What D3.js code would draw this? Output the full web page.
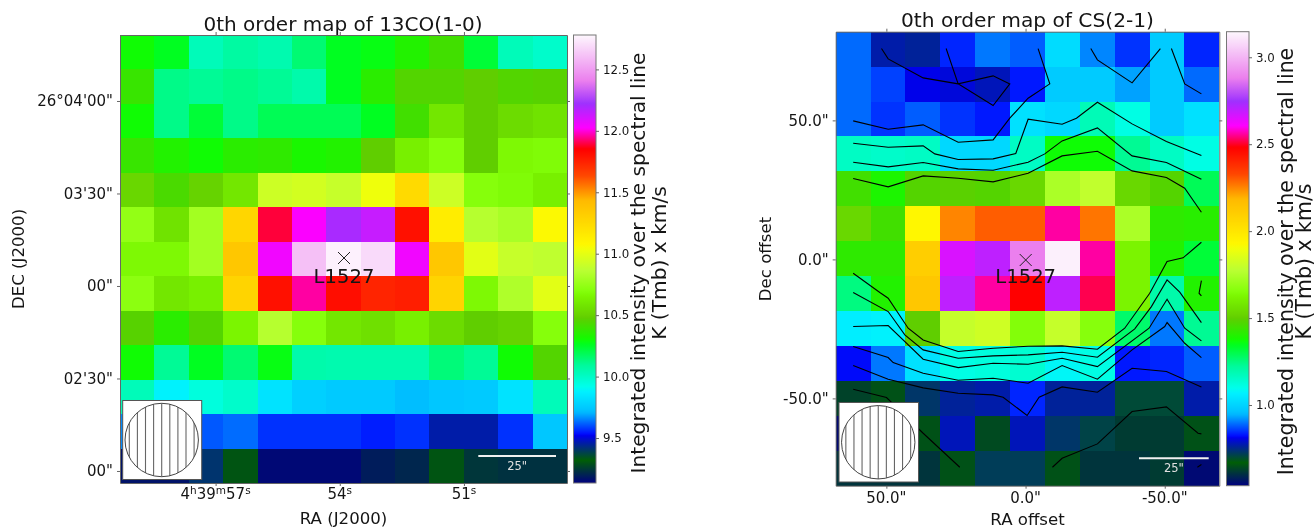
<!DOCTYPE html>
<html><head><meta charset="utf-8">
<script src="https://cdn.jsdelivr.net/npm/d3@7"></script>
<style>
html,body{margin:0;padding:0;background:#fff;}
svg{display:block;filter:blur(0.6px);}
text{font-family:"DejaVu Sans",sans-serif;fill:#151515;}
.tick text{fill:#151515;}
</style></head><body>
<svg id="c" width="1316" height="529"></svg>
<script>
// gist_ncar colormap stops
const cmapR=[[0,0],[.3098,0],[.3725,.3993],[.4235,.5003],[.5333,1],[.7922,1],[.8471,.6218],[.898,.9235],[1,.9961]];
const cmapG=[[0,0],[.051,.3722],[.1059,0],[.1569,.7202],[.1647,.7752],[.2157,1],[.2588,.9804],[.2706,.9804],[.3176,1],[.3686,.8081],[.4275,1],[.5216,1],[.6314,.7292],[.6863,.2796],[.7451,0],[.7922,0],[.8431,.1753],[.898,.5],[1,.9725]];
const cmapB=[[0,.502],[.051,.0222],[.1098,1],[.2039,1],[.2627,.6145],[.3216,0],[.4157,0],[.4745,.2],[.5333,0],[.7451,0],[.7922,1],[.8431,1],[.898,.9341],[1,.9961]];

// Left map: integrated intensity of 13CO(1-0), K km/s, top row first
const co13 = [
[10.30,10.26,10.03,10.08,10.05,10.15,10.26,10.28,10.34,10.41,10.23,10.03,9.99],
[10.39,10.12,10.10,10.12,10.10,10.06,10.26,10.36,10.45,10.45,10.48,10.45,10.46],
[10.30,10.12,10.23,10.12,10.19,10.19,10.19,10.26,10.41,10.59,10.48,10.54,10.57],
[10.39,10.34,10.30,10.36,10.37,10.32,10.34,10.48,10.63,10.70,10.48,10.67,10.68],
[10.52,10.43,10.50,10.59,10.92,10.94,10.90,11.03,11.25,10.92,10.70,10.68,10.63],
[10.74,10.57,10.79,11.27,11.89,12.03,12.20,12.14,11.80,11.14,10.85,10.81,11.07],
[10.67,10.67,10.79,11.36,12.05,12.61,12.76,12.69,12.05,11.36,10.99,10.90,10.88],
[10.72,10.59,10.63,11.28,11.80,11.96,11.81,11.74,11.76,11.28,10.67,10.83,10.99],
[10.46,10.36,10.45,10.65,10.85,10.70,10.59,10.56,10.63,10.54,10.48,10.50,10.70],
[10.30,10.10,10.26,10.15,10.28,10.06,10.05,10.05,10.05,10.14,10.10,10.30,10.45],
[10.03,9.88,9.95,9.99,9.83,9.77,9.75,9.75,9.72,9.74,9.75,9.83,10.03],
[9.66,9.63,9.61,9.63,9.57,9.57,9.57,9.55,9.57,9.46,9.46,9.57,9.74],
[9.17,9.17,9.41,9.30,9.15,9.15,9.15,9.19,9.21,9.30,9.24,9.23,9.23]];

// Right map: integrated intensity of CS(2-1), K km/s, top row first
const cs21 = [
[.89,.77,.76,.84,.90,.88,1.02,.91,.85,.98,.84],
[.89,.86,.81,.80,.78,.83,.98,.98,.93,.98,.89],
[.89,.85,.88,.85,.83,1.03,1.01,1.18,1.11,.98,1.03],
[1.16,1.15,1.16,1.01,1.01,1.16,1.37,1.37,1.23,1.16,1.11],
[1.45,1.39,1.48,1.49,1.48,1.53,1.74,1.79,1.53,1.48,1.29],
[1.53,1.45,1.93,2.25,2.30,2.30,2.56,2.27,1.74,1.42,1.41],
[1.42,1.42,2.10,2.66,2.70,2.88,3.13,2.56,1.62,1.40,1.32],
[1.25,1.40,2.13,2.70,2.56,2.48,2.70,2.52,1.62,1.20,1.40],
[1.06,1.07,1.50,1.80,1.82,1.65,1.80,1.66,1.27,.90,1.23],
[.82,.90,1.03,1.11,1.12,1.14,1.08,1.11,.83,.84,.88],
[.63,.65,.73,.76,.77,.84,.76,.76,.70,.70,.77],
[.55,.59,.65,.78,.64,.78,.73,.71,.62,.62,.65],
[.61,.61,.61,.65,.72,.72,.65,.61,.61,.62,.55]];

// Contours on the right map: [RA offset, Dec offset] in arcsec
const contourA=[[51.75,75.84],[49.35,72.12],[36.78,65.29],[24.21,63.13],[11.65,55.34],[5.66,63.13],[11.65,66.01],[24.21,63.13],[28.53,75.84]];
const contourB=[[-4.51,75.84],[-8.7,63.13],[-.92,57.98],[5.66,50.78],[11.65,42.99],[24.21,42.15],[36.78,48.39],[49.35,46.83],[61.92,49.82]];
const contourC=[[-23.43,75.84],[-25.82,71.77],[-38.27,63.49],[-48.44,75.84]];
const contourD=[[-52.39,75.84],[-57.18,63.13],[-63.17,59.54]];
const contourE=[[61.92,41.79],[49.35,40.35],[36.78,40.83],[32.59,37.95],[24.21,35.92],[11.65,36.16],[3.51,38.07],[-.92,50.42],[-13.13,48.62],[-18.28,50.78],[-25.82,56.54],[-38.27,48.74],[-50.6,42.39],[-63.17,37.35]];
const contourF=[[61.92,34.96],[49.35,33.28],[36.78,34.84],[24.21,32.56],[11.65,32.08],[-.92,34.96],[-6.91,37.95],[-13.13,42.63],[-25.82,47.31],[-38.27,37.23],[-50.6,34.84],[-63.17,28.84]];
const contourG=[[61.92,29.08],[49.35,26.08],[36.78,30.04],[24.21,29.2],[11.65,27.88],[-.92,31.0],[-13.13,37.23],[-25.82,38.91],[-38.27,31.84],[-50.6,29.44],[-57.18,25.6],[-63.17,16.97]];
const contourI=[[61.92,-4.98],[52.34,-11.93],[49.35,-13.97],[42.17,-24.76],[36.78,-28.96],[24.21,-33.15],[11.65,-31.95],[-.92,-31.23],[-13.13,-31.11],[-25.82,-32.31],[-35.63,-24.76],[-44.61,-12.17],[-50.84,-.78],[-56.58,.55],[-63.17,6.18]];
const contourJ=[[61.92,-11.93],[49.35,-18.76],[43.37,-27.16],[36.78,-32.55],[24.21,-35.55],[11.65,-34.71],[-.92,-34.35],[-13.13,-33.39],[-25.82,-35.19],[-39.23,-24.98],[-45.21,-16.97],[-50.84,-7.37],[-55.39,-11.81],[-63.17,-22.72]];
const contourK=[[61.92,-24.16],[49.35,-23.8],[36.78,-35.91],[24.21,-38.91],[11.65,-37.35],[-.92,-37.71],[-13.13,-35.55],[-25.82,-38.55],[-44.37,-24.76],[-50.84,-14.33],[-57.18,-24.76],[-63.17,-29.32]];
const contourL=[[61.92,-31.35],[49.35,-35.31],[47.56,-37.11],[36.78,-40.95],[24.21,-43.46],[11.65,-42.74],[-.92,-44.54],[-13.13,-38.19],[-25.82,-43.1],[-38.27,-32.55],[-50,-24.16],[-50.84,-22.72],[-57.18,-30.16],[-63.17,-35.31]];
const contourM=[[61.92,-38.19],[49.35,-43.1],[36.78,-46.22],[24.21,-48.14],[11.65,-48.74],[8.06,-49.58],[-.56,-56.17],[-4.87,-49.58],[-13.13,-45.86],[-25.82,-47.78],[-38.27,-39.15],[-50.6,-40.35],[-63.17,-45.86]];
const contourN=[[61.92,-46.7],[49.95,-49.7],[36.78,-62.53],[23.62,-74.76]];
const contourO=[[-9.66,-74.76],[-13.13,-71.52],[-25.82,-66.36],[-38.27,-54.73],[-50.6,-53.06],[-61.97,-62.53],[-63.17,-62.77]];
const contourP=[[-63.17,-7.61],[-62.33,-12.17],[-63.17,-13.13]];
const contourQ=[[-61.73,-74.76],[-63.17,-73.8]];
const contours=[contourA,contourB,contourC,contourD,contourE,contourF,contourG,contourI,contourJ,contourK,contourL,contourM,contourN,contourO,contourP,contourQ];

// Ticks
const raTicksL=[57,54,51];
const raLabelsL=[[["4","n"],["h","s"],["39","n"],["m","s"],["57","n"],["s","s"]],[["54","n"],["s","s"]],[["51","n"],["s","s"]]];
const decTicksL=[60,30,0,-30,-60];
const decLabelsL=['26°04\'00"','03\'30"','00"','02\'30"','00"'];
const offTicks=[50,0,-50];
const offLabels=['50.0"','0.0"','-50.0"'];
const cbTicksL=[9.5,10,10.5,11,11.5,12,12.5];
const cbTicksR=[1,1.5,2,2.5,3];

const chan=s=>d3.scaleLinear(s.map(d=>d[0]),s.map(d=>d[1]*255)).clamp(true);
const cr=chan(cmapR),cg=chan(cmapG),cb=chan(cmapB);
const ncar=t=>`rgb(${cr(t)|0},${cg(t)|0},${cb(t)|0})`;

const svg=d3.select('#c');
const defs=svg.append('defs');
const frame='#666';

function panel(o){
  const g=svg.append('g');
  const col=d3.scaleBand(d3.range(o.data[0].length),[o.x0,o.x1]);
  const row=d3.scaleBand(d3.range(o.data.length),[o.y0,o.y1]);
  const norm=d3.scaleLinear(o.vdom,[0,1]);
  o.data.forEach((r,i)=>g.selectAll(null).data(r).join('rect')
    .attr('x',(d,j)=>col(j)).attr('y',row(i))
    .attr('width',col.bandwidth()).attr('height',row.bandwidth())
    .attr('shape-rendering','crispEdges')
    .attr('fill',d=>ncar(norm(d))));
  // contours
  if(o.contours){
    const line=d3.line().x(d=>o.xs(d[0])).y(d=>o.ys(d[1]));
    g.selectAll(null).data(o.contours).join('path').attr('d',line)
      .attr('fill','none').attr('stroke','#000').attr('stroke-width',1.1);
  }
  // source marker and label
  const mx=o.mark[0],my=o.mark[1];
  g.append('path').attr('d',`M${mx-6},${my-6}L${mx+6},${my+6}M${mx-6},${my+6}L${mx+6},${my-6}`)
    .attr('stroke','#222').attr('stroke-width',1);
  g.append('text').attr('x',o.mark[0]).attr('y',282.5).attr('text-anchor','middle')
    .attr('font-size',19.6).text('L1527');
  // beam box
  const b=o.beam;
  g.append('rect').attr('x',b.x).attr('y',b.y).attr('width',b.s).attr('height',b.s)
    .attr('fill','#fff').attr('stroke','#555').attr('stroke-width',1);
  const cx=b.x+b.s/2-.5,cy=b.y+b.s/2,rad=36.7;
  defs.append('clipPath').attr('id',o.id+'b').append('circle').attr('cx',cx).attr('cy',cy).attr('r',rad);
  g.append('g').attr('clip-path',`url(#${o.id}b)`).selectAll('line').data(d3.range(-4,5)).join('line')
    .attr('x1',d=>cx+d*8.1).attr('x2',d=>cx+d*8.1).attr('y1',cy-rad).attr('y2',cy+rad)
    .attr('stroke','#666').attr('stroke-width',1.1);
  g.append('circle').attr('cx',cx).attr('cy',cy).attr('r',rad).attr('fill','none').attr('stroke','#444').attr('stroke-width',1);
  // scale bar
  g.append('line').attr('x1',o.bar[0]).attr('x2',o.bar[1]).attr('y1',o.bar[2]).attr('y2',o.bar[2])
    .attr('stroke','#f0f0f0').attr('stroke-width',2);
  g.append('text').attr('x',(o.bar[0]+o.bar[1])/2).attr('y',o.bar[2]+14).attr('text-anchor','middle')
    .attr('font-size',11.5).style('fill','#e0e0e0').text('25"');
  // axes
  const bottom=d3.axisBottom(o.xs).tickValues(o.xt).tickSizeInner(3).tickSizeOuter(0).tickFormat('');
  const top=d3.axisTop(o.xs).tickValues(o.xt).tickSizeInner(3).tickSizeOuter(0).tickFormat('');
  const left=d3.axisLeft(o.ys).tickValues(o.yt).tickSizeInner(3).tickSizeOuter(0).tickPadding(4).tickFormat((d,i)=>o.yl[i]);
  const right=d3.axisRight(o.ys).tickValues(o.yt).tickSizeInner(3).tickSizeOuter(0).tickFormat('');
  const ax=[[bottom,`translate(0,${o.y1})`],[top,`translate(0,${o.y0})`],[left,`translate(${o.x0},0)`],[right,`translate(${o.x1},0)`]];
  ax.forEach(([a,t],i)=>{
    const s=g.append('g').attr('transform',t).call(a);
    s.select('.domain').attr('stroke',frame).attr('stroke-width',1);
    s.selectAll('.tick line').attr('stroke',frame);
    s.selectAll('.tick text').attr('font-size',15).attr('font-family','DejaVu Sans');
  });
  // x tick labels (with superscripts where needed)
  g.selectAll(null).data(o.xt).join('text')
    .attr('x',d=>o.xs(d)).attr('y',o.y1+o.xty).attr('text-anchor','middle')
    .attr('font-size',15)
    .each(function(d,i){
      const t=d3.select(this);
      const parts=o.xl[i];
      if(typeof parts==='string'){t.text(parts);return;}
      parts.forEach(p=>t.append('tspan').text(p[0])
        .attr('font-size',p[1]==='s'?10.5:15).style('baseline-shift',p[1]==='s'?'5.5px':null));
    });
  // titles
  g.append('text').attr('x',o.title[1]).attr('y',o.title[2]).attr('text-anchor','middle')
    .attr('font-size',o.title[3]).text(o.title[0]);
  g.append('text').attr('x',(o.x0+o.x1)/2).attr('y',o.xlab[1]).attr('text-anchor','middle')
    .attr('font-size',16.6).text(o.xlab[0]);
  g.append('text').attr('transform',`translate(${o.ylab[1]},${o.ylab[2]}) rotate(-90)`).attr('text-anchor','middle')
    .attr('font-size',16.6).text(o.ylab[0]);
  // colour bar
  const grad=defs.append('linearGradient').attr('id',o.id+'g').attr('x1',0).attr('x2',0).attr('y1',1).attr('y2',0);
  grad.selectAll('stop').data(d3.range(0,257)).join('stop')
    .attr('offset',d=>d/256).attr('stop-color',d=>ncar(d/256));
  const cy2=d3.scaleLinear(o.vdom,[o.cb.y1,o.cb.y0]);
  g.append('rect').attr('x',o.cb.x0).attr('y',o.cb.y0).attr('width',o.cb.x1-o.cb.x0).attr('height',o.cb.y1-o.cb.y0)
    .attr('fill',`url(#${o.id}g)`).attr('stroke','#777').attr('stroke-width',1);
  const ca=g.append('g').attr('transform',`translate(${o.cb.x1},0)`)
    .call(d3.axisRight(cy2).tickValues(o.cbt).tickSize(3).tickPadding(4).tickFormat(d3.format('.1f')));
  ca.select('.domain').remove();
  ca.selectAll('.tick line').attr('stroke',frame);
  ca.selectAll('.tick text').attr('font-size',11.8).attr('font-family','DejaVu Sans');
  g.append('text').attr('transform',`translate(${o.cl[0]},${o.cl[2]}) rotate(-90)`).attr('text-anchor','middle')
    .attr('font-size',o.cl[3]).text('Integrated intensity over the spectral line');
  g.append('text').attr('transform',`translate(${o.cl[1]},${o.cl[2]}) rotate(-90)`).attr('text-anchor','middle')
    .attr('font-size',o.cl[3]).text('K (Tmb) x km/s');
}

panel({id:'l',data:co13,x0:120,x1:567,y0:35,y1:483,xty:16,
  xs:d3.scaleLinear([59.31,48.51],[120,567]),ys:d3.scaleLinear([81.4,-63.9],[35,483]),
  vdom:[9.134,12.78],xt:raTicksL,xl:raLabelsL,yt:decTicksL,yl:decLabelsL,
  mark:[344,258],beam:{x:122.7,y:400.5,s:79},bar:[478.3,556,456],
  title:['0th order map of 13CO(1-0)',343,31,20],xlab:['RA (J2000)',524],ylab:['DEC (J2000)',24,259],
  cb:{x0:573.5,x1:596,y0:35,y1:483},cbt:cbTicksL,cl:[645,666,263,20.2]});

panel({id:'r',data:cs21,x0:835.7,x1:1219.3,y0:31.7,y1:485.7,xty:17,
  xs:d3.scaleLinear([68.2,-69.6],[835.7,1219.3]),ys:d3.scaleLinear([81.9,-81.4],[31.7,485.7]),
  vdom:[.536,3.147],xt:offTicks,xl:offLabels,yt:offTicks,yl:offLabels,contours,
  mark:[1025.7,260],beam:{x:839,y:402.5,s:79.5},bar:[1139,1208.7,458.3],
  title:['0th order map of CS(2-1)',1027.5,27,20.2],xlab:['RA offset',525],ylab:['Dec offset',771,259],
  cb:{x0:1226.5,x1:1249,y0:31.7,y1:485.7},cbt:cbTicksR,cl:[1293,1311,261.5,20.5]});
</script></body></html>
